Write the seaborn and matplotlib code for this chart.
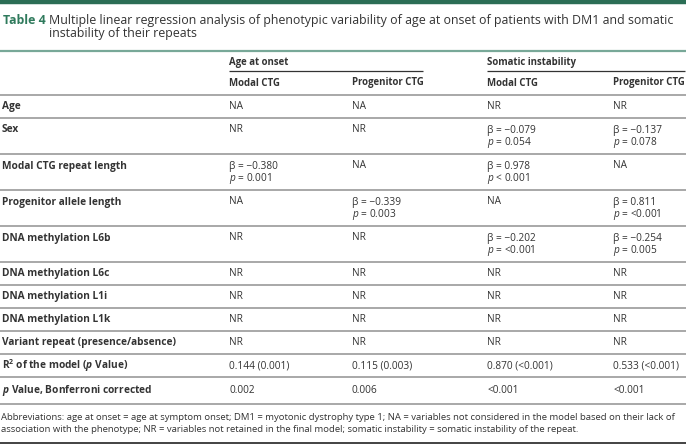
import matplotlib
matplotlib.use("Agg")
import matplotlib.pyplot as plt
import seaborn as sns

# ---------------- data ----------------
title_tag = "Table 4"
title_lines = ["Multiple linear regression analysis of phenotypic variability of age at onset of patients with DM1 and somatic",
               "instability of their repeats"]
group_headers = ["Age at onset", "Somatic instability"]
sub_headers = ["Modal CTG", "Progenitor CTG", "Modal CTG", "Progenitor CTG"]
row_labels = [
    "Age",
    "Sex",
    "Modal CTG repeat length",
    "Progenitor allele length",
    "DNA methylation L6b",
    "DNA methylation L6c",
    "DNA methylation L1i",
    "DNA methylation L1k",
    "Variant repeat (presence/absence)",
    r"R$^{\mathbf{2}}$ of the model ($\mathbfit{p}$ Value)",
    r"$\mathbfit{p}$ Value, Bonferroni corrected",
]
col_age_modal = ["NA", "NR", ("−0.380", "= 0.001"), "NA", "NR", "NR", "NR", "NR", "NR", "0.144 (0.001)", "0.002"]
col_age_prog = ["NA", "NR", "NA", ("−0.339", "= 0.003"), "NR", "NR", "NR", "NR", "NR", "0.115 (0.003)", "0.006"]
col_som_modal = ["NR", ("−0.079", "= 0.054"), ("0.978", "< 0.001"), "NA", ("−0.202", "= <0.001"), "NR", "NR", "NR", "NR", "0.870 (<0.001)", "<0.001"]
col_som_prog = ["NR", ("−0.137", "= 0.078"), "NA", ("0.811", "= <0.001"), ("−0.254", "= 0.005"), "NR", "NR", "NR", "NR", "0.533 (<0.001)", "<0.001"]
footnote = ["Abbreviations: age at onset = age at symptom onset; DM1 = myotonic dystrophy type 1; NA = variables not considered in the model based on their lack of",
            "association with the phenotype; NR = variables not retained in the final model; somatic instability = somatic instability of the repeat."]

# ---------------- style ----------------
sns.set_theme(style="white")
plt.rcParams["font.family"] = ["Open Sans", "DejaVu Sans"]
plt.rcParams["mathtext.fontset"] = "custom"
plt.rcParams["mathtext.rm"] = "Open Sans"
plt.rcParams["mathtext.it"] = "Open Sans:italic"
plt.rcParams["mathtext.bf"] = "Open Sans:bold"
plt.rcParams["mathtext.bfit"] = "Open Sans:italic:bold"

W, H = 686, 447
fig = plt.figure(figsize=(W / 100, H / 100), dpi=100)
ax = fig.add_axes([0, 0, 1, 1])
ax.set_xlim(0, W)
ax.set_ylim(H, 0)
ax.axis("off")

green_dark = "#2b6e55"
green_title = "#2f7a5c"
text_col = "#333333"
grid_col = "#9a9a9a"
bold_w = "bold"

fs_title = 8.9
fs_tag = 8.9
fs_body = 7.25
fs_head = 6.9
fs_foot = 6.8

# top bar
sns.lineplot(x=[0, W], y=[1.5, 1.5], ax=ax, color=green_dark, linewidth=3.2)

# title
ax.text(3, 20.5, title_tag, fontsize=fs_tag, fontweight="bold", color=green_title, va="center", ha="left")
for i, line in enumerate(title_lines):
    ax.text(49, 20.5 + 13.5 * i, line, fontsize=fs_title, color=text_col, va="center", ha="left")

# table top line
ax.hlines(51, 0, W, color="#78a898", linewidth=1.6)

col_x = [229, 352, 487, 613]
grp_span = [(229, 423), (487, 685)]
for (x0, x1), g in zip(grp_span, group_headers):
    ax.text(x0, 63, g, fontsize=fs_head, fontweight=bold_w, color=text_col, va="center")
    ax.hlines(71, x0, x1, color="#333333", linewidth=0.9)
for x, s in zip(col_x, sub_headers):
    ax.text(x, 83, s, fontsize=fs_head, fontweight=bold_w, color=text_col, va="center")
ax.hlines(95, 0, W, color=grid_col, linewidth=1.2)

columns = [col_age_modal, col_age_prog, col_som_modal, col_som_prog]
y = 95
n = len(row_labels)
for r in range(n):
    cells = [c[r] for c in columns]
    double = any(isinstance(c, tuple) for c in cells)
    if r == n - 1:
        h = 27
    else:
        h = 36 if double else 23
    ty = y + (12 if double else h / 2)
    ax.text(2, ty, row_labels[r], fontsize=fs_body, fontweight=bold_w, color=text_col, va="center")
    for x, c in zip(col_x, cells):
        if isinstance(c, tuple):
            ax.text(x, ty, "β = " + c[0], fontsize=fs_body, color=text_col, va="center")
            ax.text(x, ty + 12, r"$p$ " + c[1], fontsize=fs_body, color=text_col, va="center")
        else:
            ax.text(x, ty, c, fontsize=fs_body, color=text_col, va="center")
    y += h
    ax.hlines(y, 0, W, color=grid_col, linewidth=1.2)

for i, line in enumerate(footnote):
    ax.text(1, y + 13 + 13 * i, line, fontsize=fs_foot, color=text_col, va="center")
ax.hlines(443, 0, W, color="#222222", linewidth=1.2)

fig.savefig("out.png", dpi=100)
